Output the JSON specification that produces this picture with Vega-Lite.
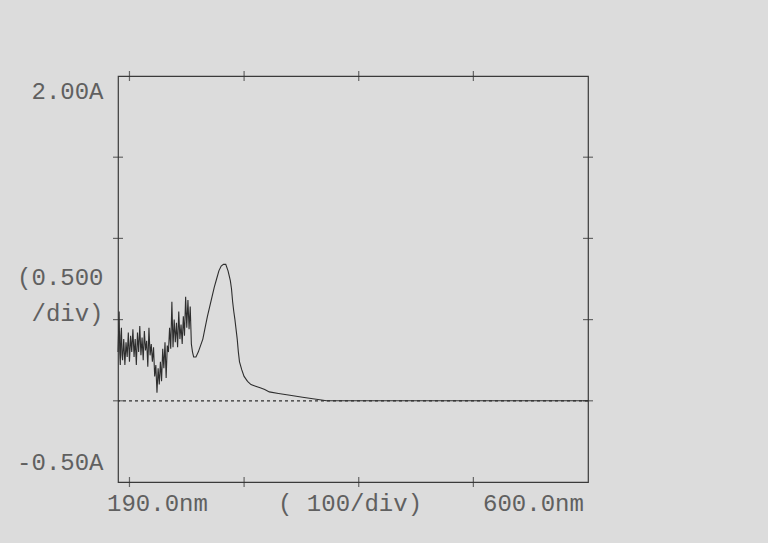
{
  "$schema": "https://vega.github.io/schema/vega-lite/v6.json",
  "width": 470,
  "height": 406,
  "autosize": {"type": "none"},
  "padding": {"left": 118, "top": 76, "right": 180, "bottom": 61},
  "background": "#dcdcdc",
  "config": {
    "view": {"stroke": "#3a3a3a", "strokeWidth": 1.2},
    "axis": {"grid": false, "domain": false, "ticks": false, "title": null, "labelFont": "Liberation Mono", "labelFontSize": 24, "labelColor": "#606060"}
  },
  "datasets": {
    "spectrum": [
      {"nm": 190, "A": 0.30}, {"nm": 190.5, "A": 0.42}, {"nm": 191, "A": 0.55}, {"nm": 191.5, "A": 0.30}, {"nm": 192, "A": 0.22}, {"nm": 192.5, "A": 0.40}, {"nm": 193, "A": 0.45}, {"nm": 193.5, "A": 0.28}, {"nm": 194, "A": 0.25},
      {"nm": 195, "A": 0.38}, {"nm": 196, "A": 0.22}, {"nm": 197, "A": 0.36}, {"nm": 198, "A": 0.27}, {"nm": 199, "A": 0.42},
      {"nm": 200, "A": 0.24}, {"nm": 201, "A": 0.40}, {"nm": 202, "A": 0.30}, {"nm": 203, "A": 0.44}, {"nm": 204, "A": 0.27},
      {"nm": 205, "A": 0.38}, {"nm": 206, "A": 0.22}, {"nm": 207, "A": 0.42}, {"nm": 208, "A": 0.30}, {"nm": 209, "A": 0.46},
      {"nm": 210, "A": 0.28}, {"nm": 211, "A": 0.39}, {"nm": 212, "A": 0.25}, {"nm": 213, "A": 0.43}, {"nm": 214, "A": 0.31},
      {"nm": 215, "A": 0.37}, {"nm": 216, "A": 0.21}, {"nm": 217, "A": 0.45}, {"nm": 218, "A": 0.28}, {"nm": 219, "A": 0.35},
      {"nm": 220, "A": 0.24}, {"nm": 221, "A": 0.33}, {"nm": 222, "A": 0.15}, {"nm": 223, "A": 0.22}, {"nm": 224, "A": 0.05},
      {"nm": 225, "A": 0.20}, {"nm": 226, "A": 0.10}, {"nm": 227, "A": 0.24}, {"nm": 228, "A": 0.12}, {"nm": 229, "A": 0.32},
      {"nm": 230, "A": 0.20}, {"nm": 231, "A": 0.36}, {"nm": 232, "A": 0.14}, {"nm": 233, "A": 0.34}, {"nm": 234, "A": 0.30},
      {"nm": 235, "A": 0.45}, {"nm": 236, "A": 0.32}, {"nm": 237, "A": 0.61}, {"nm": 238, "A": 0.33}, {"nm": 239, "A": 0.50},
      {"nm": 240, "A": 0.36}, {"nm": 241, "A": 0.48}, {"nm": 242, "A": 0.33}, {"nm": 243, "A": 0.55}, {"nm": 244, "A": 0.38},
      {"nm": 245, "A": 0.47}, {"nm": 246, "A": 0.35}, {"nm": 247, "A": 0.52}, {"nm": 248, "A": 0.40}, {"nm": 249, "A": 0.64},
      {"nm": 250, "A": 0.45}, {"nm": 251, "A": 0.62}, {"nm": 252, "A": 0.44}, {"nm": 253, "A": 0.58}, {"nm": 254, "A": 0.35},
      {"nm": 255, "A": 0.30}, {"nm": 256, "A": 0.27}, {"nm": 257, "A": 0.27}, {"nm": 258, "A": 0.27}, {"nm": 260, "A": 0.30},
      {"nm": 262, "A": 0.34}, {"nm": 264, "A": 0.38}, {"nm": 266, "A": 0.45}, {"nm": 268, "A": 0.52}, {"nm": 270, "A": 0.58},
      {"nm": 272, "A": 0.64}, {"nm": 274, "A": 0.70}, {"nm": 276, "A": 0.75}, {"nm": 278, "A": 0.80}, {"nm": 280, "A": 0.83},
      {"nm": 282, "A": 0.84}, {"nm": 284, "A": 0.84}, {"nm": 286, "A": 0.80}, {"nm": 288, "A": 0.74}, {"nm": 289, "A": 0.69},
      {"nm": 290, "A": 0.61}, {"nm": 291, "A": 0.55}, {"nm": 292, "A": 0.50}, {"nm": 293, "A": 0.44}, {"nm": 294, "A": 0.38},
      {"nm": 295, "A": 0.30}, {"nm": 296, "A": 0.24}, {"nm": 298, "A": 0.19}, {"nm": 300, "A": 0.15}, {"nm": 303, "A": 0.12},
      {"nm": 306, "A": 0.10}, {"nm": 310, "A": 0.09}, {"nm": 314, "A": 0.08}, {"nm": 318, "A": 0.07}, {"nm": 322, "A": 0.055},
      {"nm": 330, "A": 0.045}, {"nm": 340, "A": 0.034}, {"nm": 351, "A": 0.022}, {"nm": 363, "A": 0.01}, {"nm": 372, "A": 0.0},
      {"nm": 400, "A": 0.0}, {"nm": 450, "A": 0.0}, {"nm": 500, "A": 0.0}, {"nm": 550, "A": 0.0}, {"nm": 600, "A": 0.0}
    ],
    "yticks": [
      {"nm": 190, "A": 1.5}, {"nm": 190, "A": 1.0}, {"nm": 190, "A": 0.5}, {"nm": 190, "A": 0.0},
      {"nm": 600, "A": 1.5}, {"nm": 600, "A": 1.0}, {"nm": 600, "A": 0.5}, {"nm": 600, "A": 0.0}
    ],
    "xticks": [
      {"nm": 200, "A": 2.0}, {"nm": 300, "A": 2.0}, {"nm": 400, "A": 2.0}, {"nm": 500, "A": 2.0},
      {"nm": 200, "A": -0.5}, {"nm": 300, "A": -0.5}, {"nm": 400, "A": -0.5}, {"nm": 500, "A": -0.5}
    ],
    "zero": [{"A": 0}]
  },
  "layer": [
    {
      "data": {"name": "zero"},
      "mark": {"type": "rule", "color": "#2e2e2e", "strokeDash": [3, 3], "strokeWidth": 1.2},
      "encoding": {
        "y": {"field": "A", "type": "quantitative", "scale": {"domain": [-0.5, 2.0], "nice": false, "zero": false}}
      }
    },
    {
      "data": {"name": "yticks"},
      "mark": {"type": "tick", "orient": "horizontal", "color": "#333333", "size": 10, "thickness": 1.2},
      "encoding": {
        "x": {"field": "nm", "type": "quantitative", "scale": {"domain": [190, 600], "nice": false, "zero": false}},
        "y": {"field": "A", "type": "quantitative", "scale": {"domain": [-0.5, 2.0], "nice": false, "zero": false}}
      }
    },
    {
      "data": {"name": "xticks"},
      "mark": {"type": "tick", "orient": "vertical", "color": "#333333", "size": 10, "thickness": 1.2},
      "encoding": {
        "x": {"field": "nm", "type": "quantitative", "scale": {"domain": [190, 600], "nice": false, "zero": false}},
        "y": {"field": "A", "type": "quantitative", "scale": {"domain": [-0.5, 2.0], "nice": false, "zero": false}}
      }
    },
    {
      "data": {"name": "spectrum"},
      "mark": {"type": "line", "color": "#2e2e2e", "strokeWidth": 1.1, "interpolate": "linear"},
      "encoding": {
        "x": {
          "field": "nm", "type": "quantitative",
          "scale": {"domain": [190, 600], "nice": false, "zero": false},
          "axis": {
            "values": [224, 392, 552],
            "labelExpr": "datum.value < 300 ? '190.0nm' : datum.value < 450 ? '( 100/div)' : '600.0nm'",
            "labelPadding": 9, "labelAlign": "center", "labelOverlap": false
          }
        },
        "y": {
          "field": "A", "type": "quantitative",
          "scale": {"domain": [-0.5, 2.0], "nice": false, "zero": false},
          "axis": {
            "values": [1.904, 0.762, -0.38],
            "labelExpr": "datum.value > 1.5 ? '2.00A' : datum.value > 0 ? ['(0.500', '/div)'] : '-0.50A'",
            "labelPadding": 15, "labelBaseline": "middle", "labelLineHeight": 36, "labelOverlap": false
          }
        }
      }
    }
  ]
}
